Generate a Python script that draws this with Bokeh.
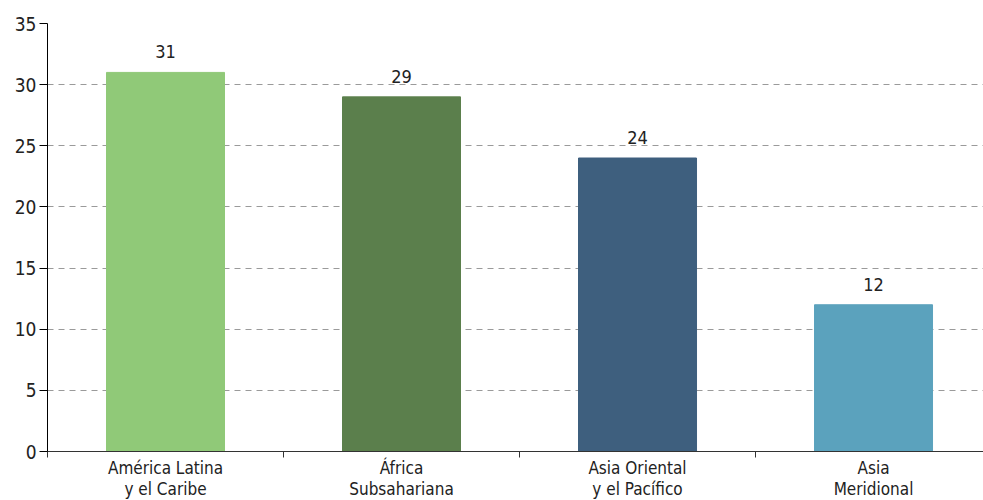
from bokeh.plotting import figure
from bokeh.models import FixedTicker, Range1d, ColumnDataSource
from bokeh.embed import file_html
from bokeh.resources import INLINE
from bokeh.core.properties import value

# Regions and their values
regions = ["América Latina\ny el Caribe", "África\nSubsahariana",
           "Asia Oriental\ny el Pacífico", "Asia\nMeridional"]
values = [31, 29, 24, 12]
colors = ["#90C978", "#5B7F4C", "#3E5F7E", "#5BA2BD"]
y_ticks = [0, 5, 10, 15, 20, 25, 30, 35]

FONT = "'DejaVu Sans Condensed', 'Roboto Condensed', Roboto, sans-serif"

centers = [i + 0.5 for i in range(len(regions))]
bounds = [float(i) for i in range(len(regions) + 1)]

src = ColumnDataSource(dict(x=centers, top=values, color=colors,
                            label=[str(v) for v in values]))

p = figure(frame_width=936, frame_height=428, output_backend="svg",
           toolbar_location=None,
           x_range=Range1d(0, 3.966), y_range=Range1d(0, 35),
           min_border_left=47, min_border_right=0, min_border_top=23,
           min_border_bottom=49)
p.outline_line_color = None
p.background_fill_color = "white"

p.vbar(x="x", top="top", width=0.5, color="color", source=src)
p.text(x="x", y="top", text="label", source=src, text_align="center",
       text_baseline="bottom", y_offset=-14, text_font=value(FONT),
       text_font_size="18px", text_color="#222222")

# x axis: labels under bar centres, tick marks on category boundaries
xa = p.xaxis[0]
xa.ticker = FixedTicker(ticks=centers, minor_ticks=bounds)
xa.major_label_overrides = {c: r for c, r in zip(centers, regions)}
xa.major_tick_out = 0
xa.major_tick_in = 0
xa.minor_tick_out = 6
xa.minor_tick_in = 0
xa.minor_tick_line_color = "#333333"
xa.axis_line_color = "#333333"
xa.major_label_text_font = FONT
xa.major_label_text_font_size = "17px"
xa.major_label_text_line_height = 1.05
xa.major_label_text_color = "#222222"
xa.major_label_standoff = 0

ya = p.yaxis[0]
ya.ticker = FixedTicker(ticks=y_ticks)
ya.major_tick_out = 8
ya.major_tick_in = 0
ya.minor_tick_out = 0
ya.minor_tick_in = 0
ya.axis_line_color = "black"
ya.major_tick_line_color = "black"
ya.major_label_text_font = FONT
ya.major_label_text_font_size = "19px"
ya.major_label_text_color = "#222222"
ya.major_label_standoff = 3

p.xgrid.grid_line_color = None
p.ygrid.ticker = FixedTicker(ticks=y_ticks[1:])
p.ygrid.grid_line_color = "#9a9a9a"
p.ygrid.grid_line_dash = "6 5"
p.ygrid.grid_line_width = 1

open("out.html", "w").write(file_html(p, INLINE))
